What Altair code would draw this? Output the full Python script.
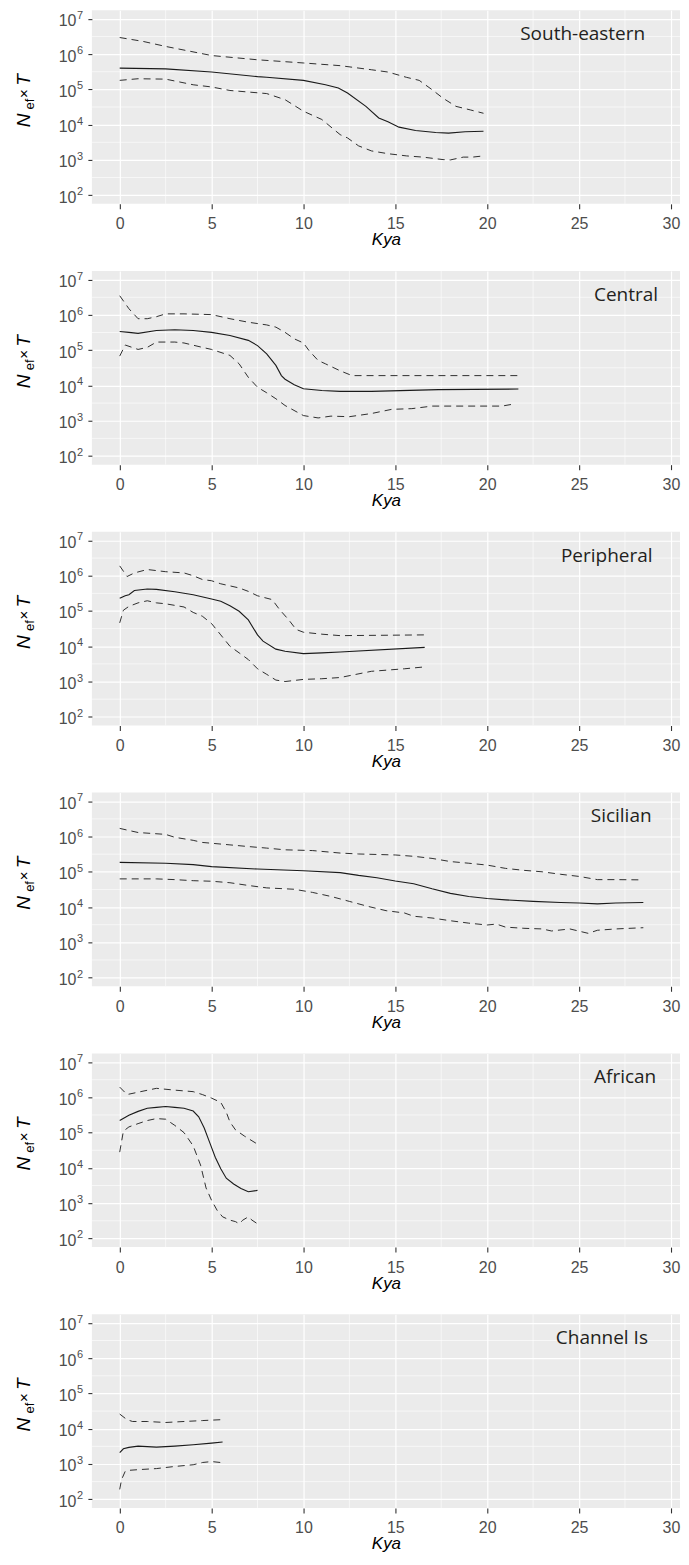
import altair as alt
import pandas as pd

regions = ["South-eastern", "Central", "Peripheral", "Sicilian", "African", "Channel Is"]

se_med_x = [0, 2.5, 5, 7.5, 8, 10, 11.2, 11.9, 12.4, 13.4, 14.1, 14.6, 15.2, 16.1, 17.2, 17.9, 18.8, 19.8]
se_med_y = [4.0e5, 3.8e5, 3.1e5, 2.3e5, 2.2e5, 1.8e5, 1.35e5, 1.1e5, 7.9e4, 3.3e4, 1.55e4, 1.2e4, 8.5e3, 6.8e3, 6.0e3, 5.75e3, 6.3e3, 6.5e3]
se_up_x = [0, 1.25, 2.5, 5, 7.5, 10, 12, 13.7, 14.6, 15.6, 16.3, 17.0, 17.6, 18.3, 19.1, 19.8]
se_up_y = [2.95e6, 2.3e6, 1.65e6, 9.1e5, 6.9e5, 5.6e5, 4.7e5, 3.6e5, 3.1e5, 2.2e5, 1.8e5, 9.8e4, 5.6e4, 3.3e4, 2.6e4, 2.1e4]
se_lo_x = [0, 1, 2.5, 4, 5, 6, 8, 9, 10, 11, 12, 12.4, 13.0, 13.7, 14.6, 15.6, 16.5, 17.6, 18.0, 18.7, 19.2, 19.8]
se_lo_y = [1.8e5, 2.0e5, 1.95e5, 1.35e5, 1.17e5, 9.3e4, 7.6e4, 5.1e4, 2.4e4, 1.4e4, 5.2e3, 4.2e3, 2.5e3, 1.8e3, 1.5e3, 1.3e3, 1.2e3, 1.02e3, 1.0e3, 1.2e3, 1.2e3, 1.3e3]

ce_med_x = [0, 0.5, 1, 2, 3, 4, 5, 6, 7, 7.5, 8, 8.5, 8.8, 9, 9.5, 10, 11, 12, 13.7, 17.35, 21.7]
ce_med_y = [3.4e5, 3.2e5, 3.0e5, 3.6e5, 3.8e5, 3.6e5, 3.2e5, 2.6e5, 1.9e5, 1.35e5, 7.9e4, 3.7e4, 1.9e4, 1.5e4, 1.05e4, 8.1e3, 7.2e3, 6.8e3, 6.8e3, 7.6e3, 7.9e3]
ce_up_x = [0, 0.5, 1, 1.5, 2, 2.5, 3.5, 5, 6, 7, 8, 8.5, 9, 9.5, 10, 10.3, 10.8, 11.2, 12, 12.65, 21.7]
ce_up_y = [3.5e6, 1.5e6, 7.8e5, 7.8e5, 8.9e5, 1.07e6, 1.07e6, 1.02e6, 7.8e5, 6.2e5, 5.2e5, 4.5e5, 3.2e5, 2.1e5, 1.6e5, 9.8e4, 5.1e4, 4.1e4, 2.6e4, 1.9e4, 1.9e4]
ce_lo_x = [0, 0.3, 1, 1.5, 2, 3, 3.5, 4.5, 5, 6, 6.5, 7, 7.5, 8, 8.5, 9, 10, 10.8, 11.5, 12.5, 13.7, 14.8, 15.9, 17, 18.25, 20.8, 21.5]
ce_lo_y = [6.8e4, 1.4e5, 1.05e5, 1.2e5, 1.7e5, 1.7e5, 1.6e5, 1.2e5, 1.05e5, 7.1e4, 4.1e4, 1.7e4, 8.9e3, 6.2e3, 4.2e3, 2.7e3, 1.4e3, 1.2e3, 1.35e3, 1.3e3, 1.6e3, 2.1e3, 2.2e3, 2.6e3, 2.6e3, 2.6e3, 3.0e3]

pe_med_x = [0, 0.3, 0.5, 0.8, 1.5, 2, 3, 4, 5, 5.5, 6, 6.5, 7, 7.5, 7.8, 8.5, 9, 10, 11, 12, 16.6]
pe_med_y = [2.3e5, 2.7e5, 2.9e5, 3.8e5, 4.2e5, 4.1e5, 3.5e5, 2.9e5, 2.2e5, 1.9e5, 1.4e5, 9.8e4, 5.6e4, 2.1e4, 1.4e4, 8.3e3, 7.2e3, 6.2e3, 6.5e3, 6.9e3, 9.3e3]
pe_up_x = [0, 0.4, 0.8, 1.5, 2.5, 3.5, 4, 4.5, 5, 5.5, 6.5, 7, 7.5, 8.3, 8.7, 9.2, 9.6, 10, 11, 12, 16.6]
pe_up_y = [1.9e6, 9.5e5, 1.2e6, 1.5e6, 1.3e6, 1.2e6, 1.0e6, 7.8e5, 7.2e5, 5.9e5, 4.5e5, 3.6e5, 2.7e5, 2.1e5, 1.1e5, 5.6e4, 3.0e4, 2.5e4, 2.2e4, 2.0e4, 2.1e4]
pe_lo_x = [0, 0.2, 0.5, 1, 1.5, 2, 2.5, 3.5, 4, 4.5, 5, 5.5, 6, 6.5, 7, 7.5, 8, 8.5, 9, 10, 11, 12, 13.7, 15.5, 16.6]
pe_lo_y = [4.6e4, 1.05e5, 1.35e5, 1.7e5, 1.95e5, 1.7e5, 1.6e5, 1.3e5, 9.1e4, 7.1e4, 4.4e4, 2.1e4, 1.0e4, 6.5e3, 4.2e3, 2.3e3, 1.6e3, 1.1e3, 1.0e3, 1.15e3, 1.2e3, 1.3e3, 1.95e3, 2.3e3, 2.6e3]

si_med_x = [0, 2.5, 4, 5, 7.5, 10, 12, 13, 14, 15, 16, 17, 18, 19, 20, 21, 22.5, 24, 25, 26, 27, 28.5]
si_med_y = [1.85e5, 1.75e5, 1.6e5, 1.4e5, 1.2e5, 1.07e5, 9.5e4, 7.9e4, 6.8e4, 5.5e4, 4.6e4, 3.3e4, 2.45e4, 2.0e4, 1.75e4, 1.6e4, 1.45e4, 1.35e4, 1.3e4, 1.23e4, 1.3e4, 1.35e4]
si_up_x = [0, 1, 2.5, 3, 4, 4.5, 6, 7, 8, 9, 10.5, 12, 13, 14, 15, 16, 17, 18, 19, 20, 21, 22, 23, 24, 25, 26, 27, 28.5]
si_up_y = [1.7e6, 1.3e6, 1.15e6, 9.5e5, 7.8e5, 6.8e5, 5.8e5, 5.2e5, 4.7e5, 4.2e5, 4.0e5, 3.4e5, 3.2e5, 3.1e5, 3.0e5, 2.75e5, 2.4e5, 1.95e5, 1.75e5, 1.55e5, 1.25e5, 1.1e5, 1.0e5, 8.5e4, 7.4e4, 6.0e4, 6.0e4, 5.9e4]
si_lo_x = [0, 2, 3, 4, 5, 6, 7, 8, 9.5, 10.5, 11.5, 12.5, 13.5, 14.5, 15.5, 16, 17, 18, 19, 20, 20.5, 21, 22, 23, 23.5, 24.5, 25.5, 26, 27, 28.5]
si_lo_y = [6.3e4, 6.3e4, 6.0e4, 5.6e4, 5.4e4, 4.9e4, 4.1e4, 3.5e4, 3.2e4, 2.6e4, 2.0e4, 1.45e4, 1.05e4, 7.9e3, 6.8e3, 5.5e3, 4.9e3, 4.1e3, 3.5e3, 3.1e3, 3.3e3, 2.7e3, 2.5e3, 2.4e3, 2.1e3, 2.4e3, 1.8e3, 2.2e3, 2.4e3, 2.6e3]

af_med_x = [0, 0.5, 1, 1.5, 2, 2.5, 3, 3.5, 4, 4.3, 4.6, 4.9, 5.2, 5.5, 5.8, 6.2, 6.6, 7, 7.5]
af_med_y = [2.2e5, 3.1e5, 4.0e5, 4.9e5, 5.2e5, 5.5e5, 5.2e5, 4.9e5, 4.1e5, 2.8e5, 1.35e5, 5.2e4, 2.0e4, 9.5e3, 5.1e3, 3.5e3, 2.6e3, 2.1e3, 2.3e3]
af_up_x = [0, 0.4, 1, 2, 3, 4, 4.5, 5, 5.5, 5.8, 6, 6.3, 6.8, 7.5]
af_up_y = [1.95e6, 1.2e6, 1.4e6, 1.8e6, 1.6e6, 1.45e6, 1.2e6, 9.5e5, 7.2e5, 3.8e5, 2.0e5, 1.2e5, 7.9e4, 4.7e4]
af_lo_x = [0, 0.2, 0.5, 1, 1.5, 2, 2.5, 3, 3.5, 4, 4.4, 4.7, 5, 5.3, 5.6, 6, 6.3, 6.5, 6.7, 7, 7.2, 7.5]
af_lo_y = [2.8e4, 1.1e5, 1.45e5, 1.8e5, 2.2e5, 2.5e5, 2.4e5, 1.6e5, 1.0e5, 4.2e4, 1.2e4, 2.7e3, 1.2e3, 630, 410, 330, 300, 260, 330, 410, 330, 260]

ch_med_x = [0, 0.2, 0.5, 1, 2, 3, 4, 5, 5.6]
ch_med_y = [2.1e3, 2.7e3, 2.95e3, 3.2e3, 3.0e3, 3.2e3, 3.5e3, 3.9e3, 4.2e3]
ch_up_x = [0, 0.4, 0.7, 1.5, 2.5, 3.5, 4.5, 5.5]
ch_up_y = [2.6e4, 1.8e4, 1.6e4, 1.6e4, 1.5e4, 1.6e4, 1.7e4, 1.8e4]
ch_lo_x = [0, 0.1, 0.3, 0.5, 1, 2, 3, 4, 4.5, 5, 5.5]
ch_lo_y = [190, 360, 620, 660, 690, 740, 850, 950, 1.1e3, 1.17e3, 1.1e3]

series = [
    (se_med_x, se_med_y, se_up_x, se_up_y, se_lo_x, se_lo_y),
    (ce_med_x, ce_med_y, ce_up_x, ce_up_y, ce_lo_x, ce_lo_y),
    (pe_med_x, pe_med_y, pe_up_x, pe_up_y, pe_lo_x, pe_lo_y),
    (si_med_x, si_med_y, si_up_x, si_up_y, si_lo_x, si_lo_y),
    (af_med_x, af_med_y, af_up_x, af_up_y, af_lo_x, af_lo_y),
    (ch_med_x, ch_med_y, ch_up_x, ch_up_y, ch_lo_x, ch_lo_y),
]

label_x = [28.6, 29.3, 29.0, 28.95, 29.2, 28.75]
label_y = 2.5e6

x_ticks = [0, 5, 10, 15, 20, 25, 30]
x_minor = [2.5, 7.5, 12.5, 17.5, 22.5, 27.5]
y_ticks = [1e2, 1e3, 1e4, 1e5, 1e6, 1e7]
y_exponents = ["2", "3", "4", "5", "6", "7"]
y_minor = [10 ** 2.5, 10 ** 3.5, 10 ** 4.5, 10 ** 5.5, 10 ** 6.5]

PLOT_W = 589
xs = alt.Scale(domain=[-1.515, 30.496], nice=False, zero=False)
ys = alt.Scale(type="log", domain=[10 ** 1.754, 10 ** 7.246], nice=False)

x_axis = alt.Axis(values=x_ticks, title="Kya", format="d", titleFontStyle="italic",
                  titleFont="Liberation Sans", titleFontSize=17, titleFontWeight="normal",
                  titleColor="#000000", titlePadding=0, labelFontSize=16, labelPadding=7,
                  tickSize=5, labelFlush=False, labelOverlap=False)
y_axis = alt.Axis(values=y_ticks, title=None, labelExpr="'10'", labelFontSize=16,
                  labelPadding=12, labelOffset=2, tickSize=4, labelFlush=False,
                  labelOverlap=False)

LINE = "#1a1a1a"
TXT = "#4D4D4D"


def panel(i):
    mx, my, ux, uy, lx, ly = series[i]
    med = pd.DataFrame({"x": mx, "y": my})
    ci = pd.concat([
        pd.DataFrame({"x": ux, "y": uy, "s": "upper"}),
        pd.DataFrame({"x": lx, "y": ly, "s": "lower"}),
    ], ignore_index=True)

    minor_x = alt.Chart(pd.DataFrame({"x": x_minor})).mark_rule(
        color="white", strokeWidth=0.6).encode(x=alt.X("x:Q", scale=xs, axis=x_axis))
    minor_y = alt.Chart(pd.DataFrame({"y": y_minor})).mark_rule(
        color="white", strokeWidth=0.6).encode(y=alt.Y("y:Q", scale=ys, axis=y_axis))
    ci_lines = alt.Chart(ci).mark_line(color=LINE, strokeWidth=0.9, strokeDash=[7, 5]).encode(
        x=alt.X("x:Q", scale=xs, axis=x_axis),
        y=alt.Y("y:Q", scale=ys, axis=y_axis),
        detail="s:N")
    med_line = alt.Chart(med).mark_line(color=LINE, strokeWidth=1.1).encode(
        x=alt.X("x:Q", scale=xs, axis=x_axis),
        y=alt.Y("y:Q", scale=ys, axis=y_axis))
    lab = alt.Chart(pd.DataFrame({"x": [label_x[i]], "y": [label_y], "t": [regions[i]]})).mark_text(
        font="Open Sans", fontSize=19, color="#231F20", align="right", baseline="alphabetic").encode(
        x=alt.X("x:Q", scale=xs, axis=x_axis),
        y=alt.Y("y:Q", scale=ys, axis=y_axis),
        text="t:N")
    expo = alt.Chart(pd.DataFrame({"y": y_ticks, "e": y_exponents})).mark_text(
        font="Liberation Sans", fontSize=11, color=TXT, align="left", baseline="middle",
        dy=-3).encode(
        x=alt.value(-15),
        y=alt.Y("y:Q", scale=ys, axis=y_axis),
        text="e:N")

    def piece(txt, px, py, size, style):
        return alt.Chart(pd.DataFrame({"t": [txt]})).mark_text(
            font="Liberation Sans", fontSize=size, fontStyle=style, color="#000000",
            angle=270, align="center", baseline="alphabetic").encode(
            x=alt.value(px), y=alt.value(py), text="t:N")

    t_n = piece("N", -62, 110.5, 19, "italic")
    t_ef = piece("ef", -58, 94, 13, "normal")
    t_x = piece("×", -63, 83.5, 15, "normal")
    t_t = piece("T", -62, 70, 19, "italic")

    return alt.layer(minor_x, minor_y, ci_lines, med_line, lab, expo,
                     t_n, t_ef, t_x, t_t).properties(width=PLOT_W, height=194)


chart = alt.vconcat(*[panel(i) for i in range(6)], spacing=22.2).properties(
    padding={"left": 7, "top": 0, "right": 0, "bottom": 0},
    background="#ffffff"
).configure_view(
    fill="#EBEBEB", stroke=None
).configure_axis(
    grid=True, gridColor="#FFFFFF", gridWidth=1.2, domain=False,
    tickColor="#333333", tickWidth=1.1,
    labelColor=TXT, labelFont="Liberation Sans"
)

chart.save("out.html", embed_options={"renderer": "svg", "actions": False})
